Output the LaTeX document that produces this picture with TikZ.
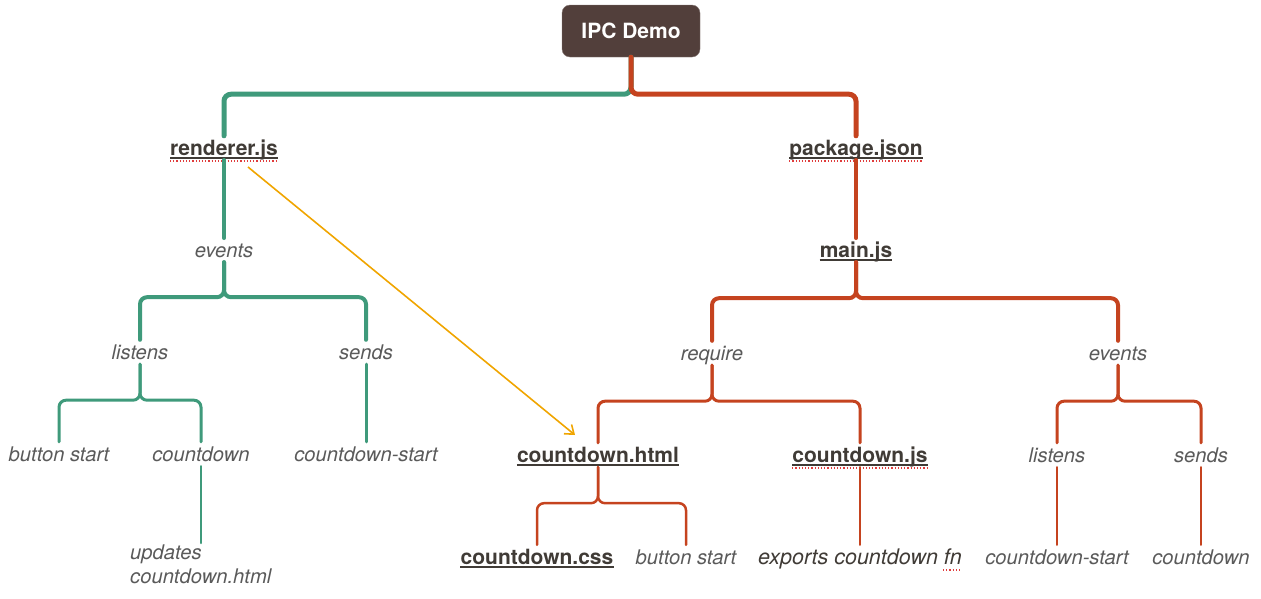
\documentclass[tikz,border=0pt]{standalone}
\usepackage{fontspec}
\setmainfont{TeX Gyre Heros}
\usetikzlibrary{arrows.meta}
\definecolor{gr}{HTML}{3F9A7B}
\definecolor{rd}{HTML}{C5431F}
\definecolor{orng}{HTML}{F0A500}
\definecolor{boxc}{HTML}{523F3B}
\definecolor{txtd}{HTML}{403B36}
\definecolor{txtl}{HTML}{5A5A5A}
\definecolor{sq}{HTML}{E03C3C}
\begin{document}
\begin{tikzpicture}[x=1pt,y=-1pt,
  lbl/.style={inner sep=0pt, text height=19pt, text depth=5pt},
  bold/.style={lbl, font=\fontsize{21}{25}\selectfont\bfseries, text=txtd,
    append after command={\pgfextra{\draw[txtd,line width=1.6pt]
      ([yshift=-3pt]\tikzlastnode.base west) -- ([yshift=-3pt]\tikzlastnode.base east);}}},
  squig/.style={append after command={\pgfextra{\draw[sq,line width=1.2pt,dotted]
      ([yshift=-6pt]\tikzlastnode.base west) -- ([yshift=-6pt]\tikzlastnode.base east);}}},
  ital/.style={lbl, font=\fontsize{20.2}{24}\selectfont\itshape, text=txtl},
  conn/.style={rounded corners=7pt, line cap=round},
  gl/.style={conn, draw=gr},
  rl/.style={conn, draw=rd},
  wa/.style={line width=5pt},
  wb/.style={line width=4.5pt},
  wc/.style={line width=4pt},
  wd/.style={line width=3pt},
  we/.style={line width=2.5pt}
]
\useasboundingbox (0,0) rectangle (1261,598);

% root
\node[fill=boxc, draw=boxc!70!white, rounded corners=8pt, minimum width=138pt, minimum height=52pt,
  inner sep=0pt, text=white, font=\fontsize{21}{25}\selectfont\bfseries] (ipc) at (631,31) {IPC Demo};

% left branch
\node[bold,squig] (ren) at (224,148) {renderer.js};
\node[ital] (ev1) at (224,250) {events};
\node[ital] (lis1) at (140,352) {listens};
\node[ital] (snd1) at (366,352) {sends};
\node[ital] (bs1) at (59,454) {button start};
\node[ital] (cd1) at (201,454) {countdown};
\node[ital] (cds1) at (366,454) {countdown-start};
\node[font=\fontsize{20.2}{24}\selectfont\itshape, text=txtl, align=left, anchor=north west,
  inner xsep=0pt, inner ysep=2pt] (upd) at (130,543) {updates\\countdown.html};

% right branch
\node[bold,squig] (pkg) at (856,148) {package.json};
\node[bold] (main) at (856,250) {main.js};
\node[ital] (req) at (712,353) {require};
\node[ital] (ev2) at (1118,353) {events};
\node[bold] (cdh) at (598,455) {countdown.html};
\node[bold,squig] (cdj) at (860,455) {countdown.js};
\node[ital] (lis2) at (1057,455) {listens};
\node[ital] (snd2) at (1201,455) {sends};
\node[bold] (css) at (537,557) {countdown.css};
\node[ital] (bs2) at (686,557) {button start};
\node[lbl, font=\fontsize{21.5}{25}\selectfont\itshape, text=txtd] (exp) at (860,557) {exports countdown fn};
\draw[sq,line width=1.2pt,dotted] ([xshift=-19pt,yshift=-6pt]exp.base east) -- ([yshift=-6pt]exp.base east);
\node[ital] (cst2) at (1057,557) {countdown-start};
\node[ital] (cd2) at (1201,557) {countdown};

% connectors: root
\draw[gl,wa] (ipc.south) -- ++(0,37) -| (ren.north);
\draw[rl,wa] (ipc.south) -- ++(0,37) -| (pkg.north);

% left tree
\draw[gl,wb] (ren.south) -- (ev1.north);
\draw[gl,wc] (ev1.south) -- ++(0,35) -| (lis1.north);
\draw[gl,wc] (ev1.south) -- ++(0,35) -| (snd1.north);
\draw[gl,wd] (lis1.south) -- ++(0,36) -| (bs1.north);
\draw[gl,wd] (lis1.south) -- ++(0,36) -| (cd1.north);
\draw[gl,wd] (snd1.south) -- (cds1.north);
\draw[gl,we] (cd1.south) -- (cd1.south |- upd.north);

% right tree
\draw[rl,wb] (pkg.south) -- (main.north);
\draw[rl,wc] (main.south) -- ++(0,36) -| (req.north);
\draw[rl,wc] (main.south) -- ++(0,36) -| (ev2.north);
\draw[rl,wd] (req.south) -- ++(0,36) -| (cdh.north);
\draw[rl,wd] (req.south) -- ++(0,36) -| (cdj.north);
\draw[rl,wd] (ev2.south) -- ++(0,36) -| (lis2.north);
\draw[rl,wd] (ev2.south) -- ++(0,36) -| (snd2.north);
\draw[rl,we] (cdh.south) -- ++(0,36) -| (css.north);
\draw[rl,we] (cdh.south) -- ++(0,36) -| (bs2.north);
\draw[rl,we] (cdj.south) -- (exp.north);
\draw[rl,we] (lis2.south) -- (cst2.north);
\draw[rl,we] (snd2.south) -- (cd2.north);

% cross link
\coordinate (a0) at (248,167);
\coordinate (a1) at (575,435);
\draw[orng, line width=1.6pt, -{Straight Barb[length=8pt,width=12pt,line width=1.6pt]}] (a0) -- (a1);
\end{tikzpicture}
\end{document}
